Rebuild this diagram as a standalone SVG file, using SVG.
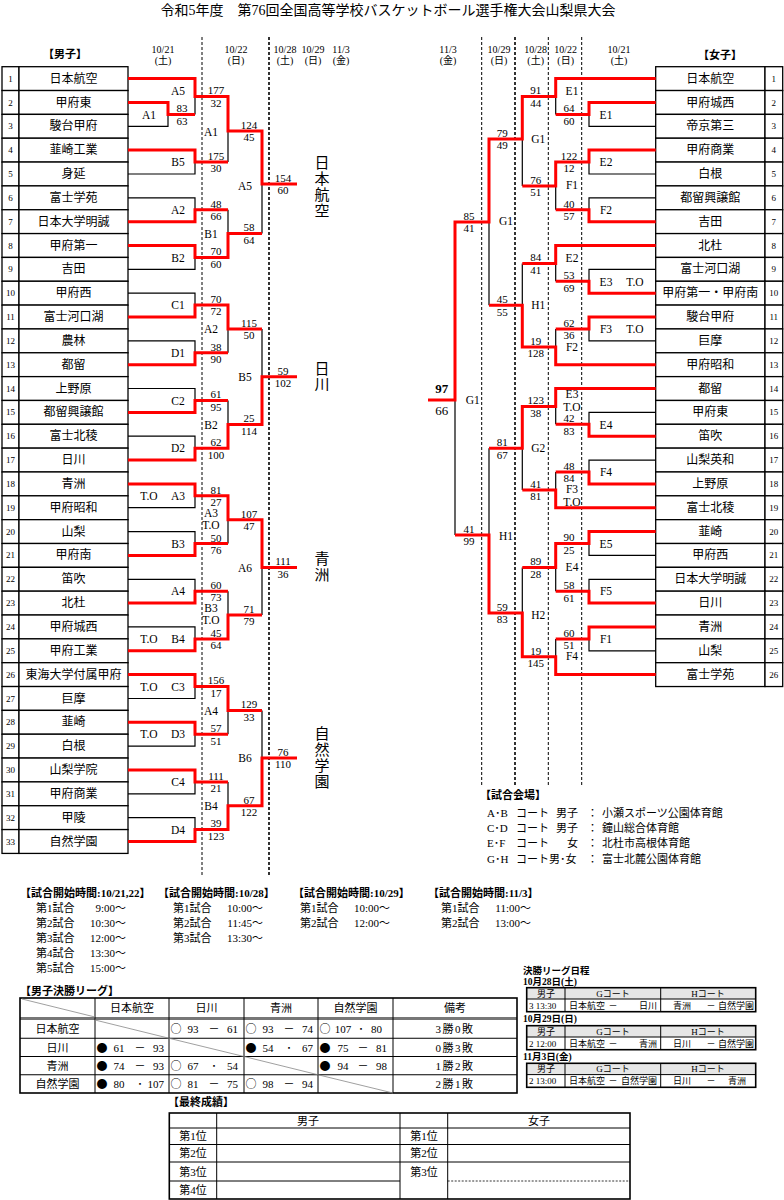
<svg xmlns="http://www.w3.org/2000/svg" width="784" height="1200" viewBox="0 0 784 1200">
<style>
text{font-family:"Liberation Serif","Noto Sans CJK JP",serif;fill:#000}
.nm{font-size:12px;text-anchor:middle}
.no{font-size:9px;text-anchor:middle}
.sc{font-size:11px;text-anchor:middle}
.lb{font-size:11.5px;text-anchor:middle}
.hd{font-size:10px;text-anchor:middle}
.bh{font-size:11px;font-weight:bold}
.st{font-size:11px}
.ste{font-size:11px;text-anchor:end}
.cm{font-size:11px;text-anchor:middle}
.ce{font-size:11px;text-anchor:end}
.ci{font-family:"Noto Sans CJK JP",sans-serif;font-size:11px;text-anchor:middle}
.rm{font-size:11px;text-anchor:middle;letter-spacing:1.5px}
.sm{font-size:9px}
.smc{font-size:9px;text-anchor:middle}
.sme{font-size:9px;text-anchor:end}
.box{fill:#fff;stroke:#000;stroke-width:1.3}
.red{fill:none;stroke:#ff0000;stroke-width:3;stroke-linejoin:miter}
.blk{fill:none;stroke:#000;stroke-width:1.2}
.d1{stroke:#000;stroke-width:1;stroke-dasharray:3,2}
.d2{stroke:#000;stroke-width:1.6;stroke-dasharray:3,2}
.tb{fill:none;stroke:#000;stroke-width:1}
.tbo{fill:none;stroke:#000;stroke-width:1.6}
.dg{stroke:#888;stroke-width:0.8}
</style>
<rect x="0" y="0" width="784" height="1200" fill="#fff"/>
<text x="388" y="15" style="font-size:14px;text-anchor:middle">令和5年度　第76回全国高等学校バスケットボール選手権大会山梨県大会</text>

<g id="headers">
<text class="bh" x="65" y="58" text-anchor="middle">【男子】</text>
<text class="hd" x="163" y="53">10/21</text><text class="hd" x="163" y="64">(土)</text>
<text class="hd" x="236" y="53">10/22</text><text class="hd" x="236" y="64">(日)</text>
<text class="hd" x="285" y="53">10/28</text><text class="hd" x="285" y="64">(土)</text>
<text class="hd" x="313" y="53">10/29</text><text class="hd" x="313" y="64">(日)</text>
<text class="hd" x="341" y="53">11/3</text><text class="hd" x="341" y="64">(金)</text>
<text class="hd" x="448" y="53">11/3</text><text class="hd" x="448" y="64">(金)</text>
<text class="hd" x="499" y="53">10/29</text><text class="hd" x="499" y="64">(日)</text>
<text class="hd" x="535.7" y="53">10/28</text><text class="hd" x="535.7" y="64">(土)</text>
<text class="hd" x="565.7" y="53">10/22</text><text class="hd" x="565.7" y="64">(日)</text>
<text class="hd" x="619" y="53">10/21</text><text class="hd" x="619" y="64">(土)</text>
<text class="bh" x="720" y="59" text-anchor="middle">【女子】</text>
</g>

<g id="dashes">
<line class="d1" x1="202" y1="37" x2="202" y2="877"/>
<line class="d2" x1="269" y1="37" x2="269" y2="877"/>
<line class="d1" x1="481.7" y1="37" x2="481.7" y2="786"/>
<line class="d2" x1="515" y1="37" x2="515" y2="786"/>
<line class="d1" x1="548.3" y1="37" x2="548.3" y2="786"/>
<line class="d1" x1="581.7" y1="37" x2="581.7" y2="786"/>
</g>

<g id="m1"><rect class="box" x="2" y="66.7" width="17" height="23.84"/><rect class="box" x="19" y="66.7" width="109" height="23.84"/><text class="no" x="10.5" y="81.6">1</text><text class="nm" x="73.5" y="82.6">日本航空</text></g>
<g id="m2"><rect class="box" x="2" y="90.54" width="17" height="23.84"/><rect class="box" x="19" y="90.54" width="109" height="23.84"/><text class="no" x="10.5" y="105.5">2</text><text class="nm" x="73.5" y="106.5">甲府東</text></g>
<g id="m3"><rect class="box" x="2" y="114.38" width="17" height="23.84"/><rect class="box" x="19" y="114.38" width="109" height="23.84"/><text class="no" x="10.5" y="129.3">3</text><text class="nm" x="73.5" y="130.3">駿台甲府</text></g>
<g id="m4"><rect class="box" x="2" y="138.22" width="17" height="23.84"/><rect class="box" x="19" y="138.22" width="109" height="23.84"/><text class="no" x="10.5" y="153.1">4</text><text class="nm" x="73.5" y="154.1">韮崎工業</text></g>
<g id="m5"><rect class="box" x="2" y="162.06" width="17" height="23.84"/><rect class="box" x="19" y="162.06" width="109" height="23.84"/><text class="no" x="10.5" y="177">5</text><text class="nm" x="73.5" y="178">身延</text></g>
<g id="m6"><rect class="box" x="2" y="185.9" width="17" height="23.84"/><rect class="box" x="19" y="185.9" width="109" height="23.84"/><text class="no" x="10.5" y="200.8">6</text><text class="nm" x="73.5" y="201.8">富士学苑</text></g>
<g id="m7"><rect class="box" x="2" y="209.74" width="17" height="23.84"/><rect class="box" x="19" y="209.74" width="109" height="23.84"/><text class="no" x="10.5" y="224.7">7</text><text class="nm" x="73.5" y="225.7">日本大学明誠</text></g>
<g id="m8"><rect class="box" x="2" y="233.58" width="17" height="23.84"/><rect class="box" x="19" y="233.58" width="109" height="23.84"/><text class="no" x="10.5" y="248.5">8</text><text class="nm" x="73.5" y="249.5">甲府第一</text></g>
<g id="m9"><rect class="box" x="2" y="257.42" width="17" height="23.84"/><rect class="box" x="19" y="257.42" width="109" height="23.84"/><text class="no" x="10.5" y="272.3">9</text><text class="nm" x="73.5" y="273.3">吉田</text></g>
<g id="m10"><rect class="box" x="2" y="281.26" width="17" height="23.84"/><rect class="box" x="19" y="281.26" width="109" height="23.84"/><text class="no" x="10.5" y="296.2">10</text><text class="nm" x="73.5" y="297.2">甲府西</text></g>
<g id="m11"><rect class="box" x="2" y="305.1" width="17" height="23.84"/><rect class="box" x="19" y="305.1" width="109" height="23.84"/><text class="no" x="10.5" y="320">11</text><text class="nm" x="73.5" y="321">富士河口湖</text></g>
<g id="m12"><rect class="box" x="2" y="328.94" width="17" height="23.84"/><rect class="box" x="19" y="328.94" width="109" height="23.84"/><text class="no" x="10.5" y="343.9">12</text><text class="nm" x="73.5" y="344.9">農林</text></g>
<g id="m13"><rect class="box" x="2" y="352.78" width="17" height="23.84"/><rect class="box" x="19" y="352.78" width="109" height="23.84"/><text class="no" x="10.5" y="367.7">13</text><text class="nm" x="73.5" y="368.7">都留</text></g>
<g id="m14"><rect class="box" x="2" y="376.62" width="17" height="23.84"/><rect class="box" x="19" y="376.62" width="109" height="23.84"/><text class="no" x="10.5" y="391.5">14</text><text class="nm" x="73.5" y="392.5">上野原</text></g>
<g id="m15"><rect class="box" x="2" y="400.46" width="17" height="23.84"/><rect class="box" x="19" y="400.46" width="109" height="23.84"/><text class="no" x="10.5" y="415.4">15</text><text class="nm" x="73.5" y="416.4">都留興譲館</text></g>
<g id="m16"><rect class="box" x="2" y="424.3" width="17" height="23.84"/><rect class="box" x="19" y="424.3" width="109" height="23.84"/><text class="no" x="10.5" y="439.2">16</text><text class="nm" x="73.5" y="440.2">富士北稜</text></g>
<g id="m17"><rect class="box" x="2" y="448.14" width="17" height="23.84"/><rect class="box" x="19" y="448.14" width="109" height="23.84"/><text class="no" x="10.5" y="463.1">17</text><text class="nm" x="73.5" y="464.1">日川</text></g>
<g id="m18"><rect class="box" x="2" y="471.98" width="17" height="23.84"/><rect class="box" x="19" y="471.98" width="109" height="23.84"/><text class="no" x="10.5" y="486.9">18</text><text class="nm" x="73.5" y="487.9">青洲</text></g>
<g id="m19"><rect class="box" x="2" y="495.82" width="17" height="23.84"/><rect class="box" x="19" y="495.82" width="109" height="23.84"/><text class="no" x="10.5" y="510.7">19</text><text class="nm" x="73.5" y="511.7">甲府昭和</text></g>
<g id="m20"><rect class="box" x="2" y="519.66" width="17" height="23.84"/><rect class="box" x="19" y="519.66" width="109" height="23.84"/><text class="no" x="10.5" y="534.6">20</text><text class="nm" x="73.5" y="535.6">山梨</text></g>
<g id="m21"><rect class="box" x="2" y="543.5" width="17" height="23.84"/><rect class="box" x="19" y="543.5" width="109" height="23.84"/><text class="no" x="10.5" y="558.4">21</text><text class="nm" x="73.5" y="559.4">甲府南</text></g>
<g id="m22"><rect class="box" x="2" y="567.34" width="17" height="23.84"/><rect class="box" x="19" y="567.34" width="109" height="23.84"/><text class="no" x="10.5" y="582.3">22</text><text class="nm" x="73.5" y="583.3">笛吹</text></g>
<g id="m23"><rect class="box" x="2" y="591.18" width="17" height="23.84"/><rect class="box" x="19" y="591.18" width="109" height="23.84"/><text class="no" x="10.5" y="606.1">23</text><text class="nm" x="73.5" y="607.1">北杜</text></g>
<g id="m24"><rect class="box" x="2" y="615.02" width="17" height="23.84"/><rect class="box" x="19" y="615.02" width="109" height="23.84"/><text class="no" x="10.5" y="629.9">24</text><text class="nm" x="73.5" y="630.9">甲府城西</text></g>
<g id="m25"><rect class="box" x="2" y="638.86" width="17" height="23.84"/><rect class="box" x="19" y="638.86" width="109" height="23.84"/><text class="no" x="10.5" y="653.8">25</text><text class="nm" x="73.5" y="654.8">甲府工業</text></g>
<g id="m26"><rect class="box" x="2" y="662.7" width="17" height="23.84"/><rect class="box" x="19" y="662.7" width="109" height="23.84"/><text class="no" x="10.5" y="677.6">26</text><text class="nm" x="73.5" y="678.6">東海大学付属甲府</text></g>
<g id="m27"><rect class="box" x="2" y="686.54" width="17" height="23.84"/><rect class="box" x="19" y="686.54" width="109" height="23.84"/><text class="no" x="10.5" y="701.5">27</text><text class="nm" x="73.5" y="702.5">巨摩</text></g>
<g id="m28"><rect class="box" x="2" y="710.38" width="17" height="23.84"/><rect class="box" x="19" y="710.38" width="109" height="23.84"/><text class="no" x="10.5" y="725.3">28</text><text class="nm" x="73.5" y="726.3">韮崎</text></g>
<g id="m29"><rect class="box" x="2" y="734.22" width="17" height="23.84"/><rect class="box" x="19" y="734.22" width="109" height="23.84"/><text class="no" x="10.5" y="749.1">29</text><text class="nm" x="73.5" y="750.1">白根</text></g>
<g id="m30"><rect class="box" x="2" y="758.06" width="17" height="23.84"/><rect class="box" x="19" y="758.06" width="109" height="23.84"/><text class="no" x="10.5" y="773">30</text><text class="nm" x="73.5" y="774">山梨学院</text></g>
<g id="m31"><rect class="box" x="2" y="781.9" width="17" height="23.84"/><rect class="box" x="19" y="781.9" width="109" height="23.84"/><text class="no" x="10.5" y="796.8">31</text><text class="nm" x="73.5" y="797.8">甲府商業</text></g>
<g id="m32"><rect class="box" x="2" y="805.74" width="17" height="23.84"/><rect class="box" x="19" y="805.74" width="109" height="23.84"/><text class="no" x="10.5" y="820.7">32</text><text class="nm" x="73.5" y="821.7">甲陵</text></g>
<g id="m33"><rect class="box" x="2" y="829.58" width="17" height="23.84"/><rect class="box" x="19" y="829.58" width="109" height="23.84"/><text class="no" x="10.5" y="844.5">33</text><text class="nm" x="73.5" y="845.5">自然学園</text></g>

<g id="w1"><rect class="box" x="655.7" y="66.7" width="109.3" height="23.84"/><rect class="box" x="765" y="66.7" width="17.7" height="23.84"/><text class="nm" x="710.3" y="82.6">日本航空</text><text class="no" x="773.8" y="81.6">1</text></g>
<g id="w2"><rect class="box" x="655.7" y="90.54" width="109.3" height="23.84"/><rect class="box" x="765" y="90.54" width="17.7" height="23.84"/><text class="nm" x="710.3" y="106.5">甲府城西</text><text class="no" x="773.8" y="105.5">2</text></g>
<g id="w3"><rect class="box" x="655.7" y="114.38" width="109.3" height="23.84"/><rect class="box" x="765" y="114.38" width="17.7" height="23.84"/><text class="nm" x="710.3" y="130.3">帝京第三</text><text class="no" x="773.8" y="129.3">3</text></g>
<g id="w4"><rect class="box" x="655.7" y="138.22" width="109.3" height="23.84"/><rect class="box" x="765" y="138.22" width="17.7" height="23.84"/><text class="nm" x="710.3" y="154.1">甲府商業</text><text class="no" x="773.8" y="153.1">4</text></g>
<g id="w5"><rect class="box" x="655.7" y="162.06" width="109.3" height="23.84"/><rect class="box" x="765" y="162.06" width="17.7" height="23.84"/><text class="nm" x="710.3" y="178">白根</text><text class="no" x="773.8" y="177">5</text></g>
<g id="w6"><rect class="box" x="655.7" y="185.9" width="109.3" height="23.84"/><rect class="box" x="765" y="185.9" width="17.7" height="23.84"/><text class="nm" x="710.3" y="201.8">都留興譲館</text><text class="no" x="773.8" y="200.8">6</text></g>
<g id="w7"><rect class="box" x="655.7" y="209.74" width="109.3" height="23.84"/><rect class="box" x="765" y="209.74" width="17.7" height="23.84"/><text class="nm" x="710.3" y="225.7">吉田</text><text class="no" x="773.8" y="224.7">7</text></g>
<g id="w8"><rect class="box" x="655.7" y="233.58" width="109.3" height="23.84"/><rect class="box" x="765" y="233.58" width="17.7" height="23.84"/><text class="nm" x="710.3" y="249.5">北杜</text><text class="no" x="773.8" y="248.5">8</text></g>
<g id="w9"><rect class="box" x="655.7" y="257.42" width="109.3" height="23.84"/><rect class="box" x="765" y="257.42" width="17.7" height="23.84"/><text class="nm" x="710.3" y="273.3">富士河口湖</text><text class="no" x="773.8" y="272.3">9</text></g>
<g id="w10"><rect class="box" x="655.7" y="281.26" width="109.3" height="23.84"/><rect class="box" x="765" y="281.26" width="17.7" height="23.84"/><text class="nm" x="710.3" y="297.2">甲府第一・甲府南</text><text class="no" x="773.8" y="296.2">10</text></g>
<g id="w11"><rect class="box" x="655.7" y="305.1" width="109.3" height="23.84"/><rect class="box" x="765" y="305.1" width="17.7" height="23.84"/><text class="nm" x="710.3" y="321">駿台甲府</text><text class="no" x="773.8" y="320">11</text></g>
<g id="w12"><rect class="box" x="655.7" y="328.94" width="109.3" height="23.84"/><rect class="box" x="765" y="328.94" width="17.7" height="23.84"/><text class="nm" x="710.3" y="344.9">巨摩</text><text class="no" x="773.8" y="343.9">12</text></g>
<g id="w13"><rect class="box" x="655.7" y="352.78" width="109.3" height="23.84"/><rect class="box" x="765" y="352.78" width="17.7" height="23.84"/><text class="nm" x="710.3" y="368.7">甲府昭和</text><text class="no" x="773.8" y="367.7">13</text></g>
<g id="w14"><rect class="box" x="655.7" y="376.62" width="109.3" height="23.84"/><rect class="box" x="765" y="376.62" width="17.7" height="23.84"/><text class="nm" x="710.3" y="392.5">都留</text><text class="no" x="773.8" y="391.5">14</text></g>
<g id="w15"><rect class="box" x="655.7" y="400.46" width="109.3" height="23.84"/><rect class="box" x="765" y="400.46" width="17.7" height="23.84"/><text class="nm" x="710.3" y="416.4">甲府東</text><text class="no" x="773.8" y="415.4">15</text></g>
<g id="w16"><rect class="box" x="655.7" y="424.3" width="109.3" height="23.84"/><rect class="box" x="765" y="424.3" width="17.7" height="23.84"/><text class="nm" x="710.3" y="440.2">笛吹</text><text class="no" x="773.8" y="439.2">16</text></g>
<g id="w17"><rect class="box" x="655.7" y="448.14" width="109.3" height="23.84"/><rect class="box" x="765" y="448.14" width="17.7" height="23.84"/><text class="nm" x="710.3" y="464.1">山梨英和</text><text class="no" x="773.8" y="463.1">17</text></g>
<g id="w18"><rect class="box" x="655.7" y="471.98" width="109.3" height="23.84"/><rect class="box" x="765" y="471.98" width="17.7" height="23.84"/><text class="nm" x="710.3" y="487.9">上野原</text><text class="no" x="773.8" y="486.9">18</text></g>
<g id="w19"><rect class="box" x="655.7" y="495.82" width="109.3" height="23.84"/><rect class="box" x="765" y="495.82" width="17.7" height="23.84"/><text class="nm" x="710.3" y="511.7">富士北稜</text><text class="no" x="773.8" y="510.7">19</text></g>
<g id="w20"><rect class="box" x="655.7" y="519.66" width="109.3" height="23.84"/><rect class="box" x="765" y="519.66" width="17.7" height="23.84"/><text class="nm" x="710.3" y="535.6">韮崎</text><text class="no" x="773.8" y="534.6">20</text></g>
<g id="w21"><rect class="box" x="655.7" y="543.5" width="109.3" height="23.84"/><rect class="box" x="765" y="543.5" width="17.7" height="23.84"/><text class="nm" x="710.3" y="559.4">甲府西</text><text class="no" x="773.8" y="558.4">21</text></g>
<g id="w22"><rect class="box" x="655.7" y="567.34" width="109.3" height="23.84"/><rect class="box" x="765" y="567.34" width="17.7" height="23.84"/><text class="nm" x="710.3" y="583.3">日本大学明誠</text><text class="no" x="773.8" y="582.3">22</text></g>
<g id="w23"><rect class="box" x="655.7" y="591.18" width="109.3" height="23.84"/><rect class="box" x="765" y="591.18" width="17.7" height="23.84"/><text class="nm" x="710.3" y="607.1">日川</text><text class="no" x="773.8" y="606.1">23</text></g>
<g id="w24"><rect class="box" x="655.7" y="615.02" width="109.3" height="23.84"/><rect class="box" x="765" y="615.02" width="17.7" height="23.84"/><text class="nm" x="710.3" y="630.9">青洲</text><text class="no" x="773.8" y="629.9">24</text></g>
<g id="w25"><rect class="box" x="655.7" y="638.86" width="109.3" height="23.84"/><rect class="box" x="765" y="638.86" width="17.7" height="23.84"/><text class="nm" x="710.3" y="654.8">山梨</text><text class="no" x="773.8" y="653.8">25</text></g>
<g id="w26"><rect class="box" x="655.7" y="662.7" width="109.3" height="23.84"/><rect class="box" x="765" y="662.7" width="17.7" height="23.84"/><text class="nm" x="710.3" y="678.6">富士学苑</text><text class="no" x="773.8" y="677.6">26</text></g>

<g id="connectors">
<g id="black-left">
<polyline class="blk" points="128,126.3 168,126.3 168,114.4"/>
<polyline class="blk" points="128,174 195,174 195,162.1"/>
<polyline class="blk" points="128,197.8 195,197.8 195,209.8"/>
<polyline class="blk" points="128,269.3 195,269.3 195,257.4"/>
<polyline class="blk" points="128,293.2 195,293.2 195,305.1"/>
<polyline class="blk" points="128,340.9 195,340.9 195,352.8"/>
<polyline class="blk" points="128,388.5 195,388.5 195,400.5"/>
<polyline class="blk" points="128,436.2 195,436.2 195,448.2"/>
<polyline class="blk" points="128,507.7 195,507.7 195,495.8"/>
<polyline class="blk" points="128,531.6 195,531.6 195,543.5"/>
<polyline class="blk" points="128,579.3 195,579.3 195,591.2"/>
<polyline class="blk" points="128,626.9 195,626.9 195,638.9"/>
<polyline class="blk" points="128,698.5 195,698.5 195,686.6"/>
<polyline class="blk" points="128,746.1 195,746.1 195,734.2"/>
<polyline class="blk" points="128,793.8 195,793.8 195,781.9"/>
<polyline class="blk" points="128,817.7 195,817.7 195,829.6"/>
<path class="blk" d="M195,96.5V114.4 M228,131V162.1 M228,209.8V233.6 M228,329V352.8 M228,400.5V424.4 M228,519.7V543.5 M228,591.2V615.1 M228,710.4V734.2 M228,781.9V805.8 M262,184V233.6 M262,329V376.7 M262,567.4V615.1 M262,710.4V758.1"/>
</g>
<g id="black-right">
<polyline class="blk" points="655.7,126.3 589,126.3 589,114.4"/>
<polyline class="blk" points="655.7,174 589,174 589,162.1"/>
<polyline class="blk" points="655.7,197.8 589,197.8 589,209.8"/>
<polyline class="blk" points="655.7,269.3 589,269.3 589,281.3"/>
<polyline class="blk" points="655.7,340.9 589,340.9 589,329"/>
<polyline class="blk" points="655.7,412.4 589,412.4 589,424.3"/>
<polyline class="blk" points="655.7,460.1 589,460.1 589,472"/>
<polyline class="blk" points="655.7,555.4 589,555.4 589,543.5"/>
<polyline class="blk" points="655.7,579.3 589,579.3 589,591.2"/>
<polyline class="blk" points="655.7,650.8 589,650.8 589,638.9"/>
<path class="blk" d="M555.7,96.5V114.4 M555.7,186V209.8 M555.7,263.4V281.3 M555.7,329V346.9 M555.7,406.4V424.3 M555.7,472V489.9 M555.7,567.4V591.2 M555.7,638.9V656.8 M522.3,139V186 M522.3,263.4V305.2 M522.3,448.2V489.9 M522.3,567.4V613 M489,222V305.2 M489,448.2V535 M455,400V535"/>
</g>
<g id="red-left">
<polyline class="red" points="128,78.6 195,78.6 195,96.5 228,96.5 228,131 262,131 262,184 297,184"/>
<polyline class="red" points="128,102.5 168,102.5 168,114.4 195,114.4"/>
<polyline class="red" points="128,150.1 195,150.1 195,162.1 228,162.1"/>
<polyline class="red" points="128,221.7 195,221.7 195,209.8 228,209.8"/>
<polyline class="red" points="128,245.5 195,245.5 195,257.4 228,257.4 228,233.6 262,233.6"/>
<polyline class="red" points="128,317 195,317 195,305.1 228,305.1 228,329 262,329"/>
<polyline class="red" points="128,364.7 195,364.7 195,352.8 228,352.8"/>
<polyline class="red" points="128,412.4 195,412.4 195,400.5 228,400.5"/>
<polyline class="red" points="128,460.1 195,460.1 195,448.2 228,448.2 228,424.4 262,424.4 262,376.7 297,376.7"/>
<polyline class="red" points="128,483.9 195,483.9 195,495.8 228,495.8 228,519.7 262,519.7 262,567.4 297,567.4"/>
<polyline class="red" points="128,555.4 195,555.4 195,543.5 228,543.5"/>
<polyline class="red" points="128,603.1 195,603.1 195,591.2 228,591.2"/>
<polyline class="red" points="128,650.8 195,650.8 195,638.9 228,638.9 228,615.1 262,615.1"/>
<polyline class="red" points="128,674.6 195,674.6 195,686.6 228,686.6 228,710.4 262,710.4"/>
<polyline class="red" points="128,722.3 195,722.3 195,734.2 228,734.2"/>
<polyline class="red" points="128,770 195,770 195,781.9 228,781.9"/>
<polyline class="red" points="128,841.5 195,841.5 195,829.6 228,829.6 228,805.8 262,805.8 262,758.1 297,758.1"/>
</g>
<g id="red-right">
<polyline class="red" points="655.7,78.6 555.7,78.6 555.7,96.5 522.3,96.5 522.3,139 489,139 489,222 455,222 455,400 428,400"/>
<polyline class="red" points="655.7,102.5 589,102.5 589,114.4 555.7,114.4"/>
<polyline class="red" points="655.7,150.1 589,150.1 589,162.1 555.7,162.1 555.7,186 522.3,186"/>
<polyline class="red" points="655.7,221.7 589,221.7 589,209.8 555.7,209.8"/>
<polyline class="red" points="655.7,245.5 555.7,245.5 555.7,263.4 522.3,263.4"/>
<polyline class="red" points="655.7,293.2 589,293.2 589,281.3 555.7,281.3"/>
<polyline class="red" points="655.7,317 589,317 589,329 555.7,329"/>
<polyline class="red" points="655.7,364.7 555.7,364.7 555.7,346.9 522.3,346.9 522.3,305.2 489,305.2"/>
<polyline class="red" points="655.7,388.5 555.7,388.5 555.7,406.4 522.3,406.4 522.3,448.2 489,448.2"/>
<polyline class="red" points="655.7,436.2 589,436.2 589,424.3 555.7,424.3"/>
<polyline class="red" points="655.7,483.9 589,483.9 589,472 555.7,472"/>
<polyline class="red" points="655.7,507.7 555.7,507.7 555.7,489.9 522.3,489.9"/>
<polyline class="red" points="655.7,531.6 589,531.6 589,543.5 555.7,543.5 555.7,567.4 522.3,567.4"/>
<polyline class="red" points="655.7,603.1 589,603.1 589,591.2 555.7,591.2"/>
<polyline class="red" points="655.7,626.9 589,626.9 589,638.9 555.7,638.9"/>
<polyline class="red" points="655.7,674.6 555.7,674.6 555.7,656.8 522.3,656.8 522.3,613 489,613 489,535 455,535"/>
</g>
</g>

<g id="scores-left">
<text class="sc" x="182" y="112.2">83</text><text class="sc" x="182" y="124.7">63</text>
<text class="sc" x="216" y="94.3">177</text><text class="sc" x="216" y="106.8">32</text>
<text class="sc" x="216" y="159.9">175</text><text class="sc" x="216" y="172.4">30</text>
<text class="sc" x="216" y="207.6">48</text><text class="sc" x="216" y="220.1">66</text>
<text class="sc" x="216" y="255.2">70</text><text class="sc" x="216" y="267.7">60</text>
<text class="sc" x="216" y="302.9">70</text><text class="sc" x="216" y="315.4">72</text>
<text class="sc" x="216" y="350.6">38</text><text class="sc" x="216" y="363.1">90</text>
<text class="sc" x="216" y="398.3">61</text><text class="sc" x="216" y="410.8">95</text>
<text class="sc" x="216" y="446">62</text><text class="sc" x="216" y="458.5">100</text>
<text class="sc" x="216" y="493.6">81</text><text class="sc" x="216" y="505.6">27</text>
<text class="sc" x="216" y="541.8">50</text><text class="sc" x="216" y="553.8">76</text>
<text class="sc" x="216" y="589">60</text><text class="sc" x="216" y="600.8">73</text>
<text class="sc" x="216" y="637.2">45</text><text class="sc" x="216" y="649.2">64</text>
<text class="sc" x="216" y="684.4">156</text><text class="sc" x="216" y="696.9">17</text>
<text class="sc" x="216" y="732">57</text><text class="sc" x="216" y="744.5">51</text>
<text class="sc" x="216" y="779.7">111</text><text class="sc" x="216" y="792.2">21</text>
<text class="sc" x="216" y="827.4">39</text><text class="sc" x="216" y="839.9">123</text>
<text class="sc" x="249" y="128.8">124</text><text class="sc" x="249" y="141.3">45</text>
<text class="sc" x="249" y="231.4">58</text><text class="sc" x="249" y="243.9">64</text>
<text class="sc" x="249" y="326.8">115</text><text class="sc" x="249" y="339.3">50</text>
<text class="sc" x="249" y="422.2">25</text><text class="sc" x="249" y="434.7">114</text>
<text class="sc" x="249" y="517.5">107</text><text class="sc" x="249" y="530">47</text>
<text class="sc" x="249" y="612.9">71</text><text class="sc" x="249" y="625.4">79</text>
<text class="sc" x="249" y="708.2">129</text><text class="sc" x="249" y="720.7">33</text>
<text class="sc" x="249" y="803.6">67</text><text class="sc" x="249" y="816.1">122</text>
<text class="sc" x="283" y="181.8">154</text><text class="sc" x="283" y="194.3">60</text>
<text class="sc" x="283" y="374.5">59</text><text class="sc" x="283" y="387">102</text>
<text class="sc" x="283" y="565.2">111</text><text class="sc" x="283" y="577.7">36</text>
<text class="sc" x="283" y="755.9">76</text><text class="sc" x="283" y="768.4">110</text>
</g>

<g id="labels-left">
<text class="lb" x="149" y="119">A1</text>
<text class="lb" x="178" y="95">A5</text>
<text class="lb" x="178" y="166.3">B5</text>
<text class="lb" x="178" y="214">A2</text>
<text class="lb" x="178" y="261.6">B2</text>
<text class="lb" x="178" y="309.3">C1</text>
<text class="lb" x="178" y="357">D1</text>
<text class="lb" x="178" y="404.7">C2</text>
<text class="lb" x="178" y="452.4">D2</text>
<text class="lb" x="178" y="500">A3</text><text class="lb" x="149" y="500">T.O</text>
<text class="lb" x="178" y="547.7">B3</text>
<text class="lb" x="178" y="595.4">A4</text>
<text class="lb" x="178" y="643.1">B4</text><text class="lb" x="149" y="643.1">T.O</text>
<text class="lb" x="178" y="690.8">C3</text><text class="lb" x="149" y="690.8">T.O</text>
<text class="lb" x="178" y="738.4">D3</text><text class="lb" x="149" y="738.4">T.O</text>
<text class="lb" x="178" y="786.1">C4</text>
<text class="lb" x="178" y="833.8">D4</text>
<text class="lb" x="211" y="136">A1</text>
<text class="lb" x="211" y="237.8">B1</text>
<text class="lb" x="211" y="333.2">A2</text>
<text class="lb" x="211" y="428.6">B2</text>
<text class="lb" x="211" y="517.2">A3</text><text class="lb" x="211" y="529.2">T.O</text>
<text class="lb" x="211" y="612.2">B3</text><text class="lb" x="211" y="624.4">T.O</text>
<text class="lb" x="211" y="714.6">A4</text>
<text class="lb" x="211" y="810">B4</text>
<text class="lb" x="245" y="190">A5</text>
<text class="lb" x="245" y="380.9">B5</text>
<text class="lb" x="245" y="571.6">A6</text>
<text class="lb" x="245" y="762.3">B6</text>
</g>

<g id="winners-left" style="font-size:15px">
<text x="322" text-anchor="middle"><tspan x="322" y="167.5">日</tspan><tspan x="322" y="183.5">本</tspan><tspan x="322" y="199.5">航</tspan><tspan x="322" y="215.5">空</tspan></text>
<text x="322" text-anchor="middle"><tspan x="322" y="373.5">日</tspan><tspan x="322" y="389.5">川</tspan></text>
<text x="322" text-anchor="middle"><tspan x="322" y="563.5">青</tspan><tspan x="322" y="579.5">洲</tspan></text>
<text x="322" text-anchor="middle"><tspan x="322" y="738.5">自</tspan><tspan x="322" y="754.5">然</tspan><tspan x="322" y="770.5">学</tspan><tspan x="322" y="786.5">園</tspan></text>
</g>

<g id="scores-right">
<text class="sc" x="569" y="112.2">64</text><text class="sc" x="569" y="124.7">60</text>
<text class="sc" x="569" y="159.9">122</text><text class="sc" x="569" y="172.4">12</text>
<text class="sc" x="569" y="207.6">40</text><text class="sc" x="569" y="220.1">57</text>
<text class="sc" x="569" y="279.1">53</text><text class="sc" x="569" y="291.6">69</text>
<text class="sc" x="569" y="326.8">62</text><text class="sc" x="569" y="339.3">36</text>
<text class="sc" x="569" y="422.1">42</text><text class="sc" x="569" y="434.6">83</text>
<text class="sc" x="569" y="469.8">48</text><text class="sc" x="569" y="482.3">84</text>
<text class="sc" x="569" y="541.3">90</text><text class="sc" x="569" y="553.8">25</text>
<text class="sc" x="569" y="589">58</text><text class="sc" x="569" y="601.5">61</text>
<text class="sc" x="569" y="636.7">60</text><text class="sc" x="569" y="649.2">51</text>
<text class="sc" x="535.7" y="94.3">91</text><text class="sc" x="535.7" y="106.8">44</text>
<text class="sc" x="535.7" y="183.8">76</text><text class="sc" x="535.7" y="196.3">51</text>
<text class="sc" x="535.7" y="261.2">84</text><text class="sc" x="535.7" y="273.7">41</text>
<text class="sc" x="535.7" y="344.7">19</text><text class="sc" x="535.7" y="357.2">128</text>
<text class="sc" x="535.7" y="404.2">123</text><text class="sc" x="535.7" y="416.7">38</text>
<text class="sc" x="535.7" y="487.7">41</text><text class="sc" x="535.7" y="500.2">81</text>
<text class="sc" x="535.7" y="565.2">89</text><text class="sc" x="535.7" y="577.7">28</text>
<text class="sc" x="535.7" y="654.6">19</text><text class="sc" x="535.7" y="667.1">145</text>
<text class="sc" x="502.3" y="136.8">79</text><text class="sc" x="502.3" y="149.3">49</text>
<text class="sc" x="502.3" y="303">45</text><text class="sc" x="502.3" y="315.5">55</text>
<text class="sc" x="502.3" y="446">81</text><text class="sc" x="502.3" y="458.5">67</text>
<text class="sc" x="502.3" y="610.8">59</text><text class="sc" x="502.3" y="623.3">83</text>
<text class="sc" x="469" y="219.8">85</text><text class="sc" x="469" y="232.3">41</text>
<text class="sc" x="469" y="532.8">41</text><text class="sc" x="469" y="545.3">99</text>
<text x="441.7" y="393" style="font-size:13px;font-weight:bold;text-anchor:middle">97</text>
<text x="441.7" y="415" style="font-size:13px;text-anchor:middle">66</text>
</g>

<g id="labels-right">
<text class="lb" x="606" y="118.6">E1</text>
<text class="lb" x="606" y="166.3">E2</text>
<text class="lb" x="606" y="214">F2</text>
<text class="lb" x="606" y="285.5">E3</text><text class="lb" x="635" y="285.5">T.O</text>
<text class="lb" x="606" y="333.2">F3</text><text class="lb" x="635" y="333.2">T.O</text>
<text class="lb" x="606" y="428.5">E4</text>
<text class="lb" x="606" y="476.2">F4</text>
<text class="lb" x="606" y="547.7">E5</text>
<text class="lb" x="606" y="595.4">F5</text>
<text class="lb" x="606" y="643.1">F1</text>
<text class="lb" x="572" y="95.2">E1</text>
<text class="lb" x="572" y="189.2">F1</text>
<text class="lb" x="572" y="261.9">E2</text>
<text class="lb" x="572" y="351">F2</text>
<text class="lb" x="572" y="398">E3</text><text class="lb" x="572" y="410.5">T.O</text>
<text class="lb" x="572" y="493">F3</text><text class="lb" x="572" y="505.5">T.O</text>
<text class="lb" x="572" y="571">E4</text>
<text class="lb" x="572" y="660">F4</text>
<text class="lb" x="538.3" y="142.5">G1</text>
<text class="lb" x="538.3" y="308.5">H1</text>
<text class="lb" x="538.3" y="452">G2</text>
<text class="lb" x="538.3" y="618.5">H2</text>
<text class="lb" x="506" y="225.2">G1</text>
<text class="lb" x="506" y="540">H1</text>
<text class="lb" x="472.7" y="404.2">G1</text>
</g>

<g id="venues">
<text class="bh" x="480" y="799">【試合会場】</text>
<text class="st" x="487" y="817.3">A･B</text><text class="st" x="516" y="817.3">コート</text><text class="st" x="556" y="817.3">男子</text><text class="st" x="587" y="817.3">：</text><text class="st" x="602" y="817.3">小瀬スポーツ公園体育館</text>
<text class="st" x="487" y="832.3">C･D</text><text class="st" x="516" y="832.3">コート</text><text class="st" x="556" y="832.3">男子</text><text class="st" x="587" y="832.3">：</text><text class="st" x="602" y="832.3">鐘山総合体育館</text>
<text class="st" x="487" y="847.3">E･F</text><text class="st" x="516" y="847.3">コート</text><text class="st" x="567" y="847.3">女</text><text class="st" x="587" y="847.3">：</text><text class="st" x="602" y="847.3">北杜市高根体育館</text>
<text class="st" x="487" y="863.3">G･H</text><text class="st" x="516" y="863.3">コート</text><text class="st" x="549" y="863.3">男･女</text><text class="st" x="587" y="863.3">：</text><text class="st" x="602" y="863.3">富士北麓公園体育館</text>
</g>

<g id="times">
<text class="bh" x="20" y="897.3">【試合開始時間:10/21,22】</text>
<text class="st" x="36" y="912.3">第1試合</text><text class="ste" x="126" y="912.3">9:00～</text>
<text class="st" x="36" y="927.3">第2試合</text><text class="ste" x="126" y="927.3">10:30～</text>
<text class="st" x="36" y="942.3">第3試合</text><text class="ste" x="126" y="942.3">12:00～</text>
<text class="st" x="36" y="957.3">第4試合</text><text class="ste" x="126" y="957.3">13:30～</text>
<text class="st" x="36" y="972.3">第5試合</text><text class="ste" x="126" y="972.3">15:00～</text>
<text class="bh" x="158" y="897.3">【試合開始時間:10/28】</text>
<text class="st" x="173" y="912.3">第1試合</text><text class="ste" x="263" y="912.3">10:00～</text>
<text class="st" x="173" y="927.3">第2試合</text><text class="ste" x="263" y="927.3">11:45～</text>
<text class="st" x="173" y="942.3">第3試合</text><text class="ste" x="263" y="942.3">13:30～</text>
<text class="bh" x="293" y="897.3">【試合開始時間:10/29】</text>
<text class="st" x="300" y="912.3">第1試合</text><text class="ste" x="390" y="912.3">10:00～</text>
<text class="st" x="300" y="927.3">第2試合</text><text class="ste" x="390" y="927.3">12:00～</text>
<text class="bh" x="428" y="897.3">【試合開始時間:11/3】</text>
<text class="st" x="441" y="912.3">第1試合</text><text class="ste" x="531" y="912.3">11:00～</text>
<text class="st" x="441" y="927.3">第2試合</text><text class="ste" x="531" y="927.3">13:00～</text>
</g>

<g id="league">
<text class="bh" x="20" y="995">【男子決勝リーグ】</text>
<rect x="20" y="1017" width="497" height="3" fill="#777"/>
<path class="tb" d="M20,1038.25H517 M20,1056.5H517 M20,1074.75H517 M95,998V1093 M169,998V1093 M244,998V1093 M318,998V1093 M393,998V1093"/>
<rect class="tbo" x="20" y="998" width="497" height="95"/>
<line class="dg" x1="22" y1="999" x2="95" y2="1017"/>
<line class="dg" x1="95" y1="1020" x2="169" y2="1038.25"/>
<line class="dg" x1="169" y1="1038.25" x2="244" y2="1056.5"/>
<line class="dg" x1="244" y1="1056.5" x2="318" y2="1074.75"/>
<line class="dg" x1="318" y1="1074.75" x2="393" y2="1093"/>
<text class="cm" x="132" y="1011.5">日本航空</text>
<text class="cm" x="206.5" y="1011.5">日川</text>
<text class="cm" x="281" y="1011.5">青洲</text>
<text class="cm" x="355.5" y="1011.5">自然学園</text>
<text class="cm" x="455" y="1011.5">備考</text>
<text class="cm" x="57.5" y="1033.2">日本航空</text>
<text class="cm" x="57.5" y="1051.5">日川</text>
<text class="cm" x="57.5" y="1069.7">青洲</text>
<text class="cm" x="57.5" y="1088">自然学園</text>
<text class="ci" x="176" y="1033.2">○</text><text class="cm" x="193" y="1033.2">93</text><text class="cm" x="214" y="1033.2">－</text><text class="ce" x="238" y="1033.2">61</text>
<text class="ci" x="251" y="1033.2">○</text><text class="cm" x="268" y="1033.2">93</text><text class="cm" x="289" y="1033.2">－</text><text class="ce" x="313" y="1033.2">74</text>
<text class="ci" x="325" y="1033.2">○</text><text class="cm" x="343" y="1033.2">107</text><text class="cm" x="361" y="1033.2">･</text><text class="ce" x="382" y="1033.2">80</text>
<text class="rm" x="455" y="1033.2">3勝0敗</text>
<text class="ci" x="102" y="1051.5">●</text><text class="cm" x="119" y="1051.5">61</text><text class="cm" x="140" y="1051.5">－</text><text class="ce" x="164" y="1051.5">93</text>
<text class="ci" x="251" y="1051.5">●</text><text class="cm" x="268" y="1051.5">54</text><text class="cm" x="289" y="1051.5">･</text><text class="ce" x="313" y="1051.5">67</text>
<text class="ci" x="325" y="1051.5">●</text><text class="cm" x="343" y="1051.5">75</text><text class="cm" x="363" y="1051.5">－</text><text class="ce" x="387" y="1051.5">81</text>
<text class="rm" x="455" y="1051.5">0勝3敗</text>
<text class="ci" x="102" y="1069.7">●</text><text class="cm" x="119" y="1069.7">74</text><text class="cm" x="140" y="1069.7">－</text><text class="ce" x="164" y="1069.7">93</text>
<text class="ci" x="176" y="1069.7">○</text><text class="cm" x="193" y="1069.7">67</text><text class="cm" x="214" y="1069.7">･</text><text class="ce" x="238" y="1069.7">54</text>
<text class="ci" x="325" y="1069.7">●</text><text class="cm" x="343" y="1069.7">94</text><text class="cm" x="363" y="1069.7">－</text><text class="ce" x="387" y="1069.7">98</text>
<text class="rm" x="455" y="1069.7">1勝2敗</text>
<text class="ci" x="102" y="1088">●</text><text class="cm" x="119" y="1088">80</text><text class="cm" x="140" y="1088">･</text><text class="ce" x="164" y="1088">107</text>
<text class="ci" x="176" y="1088">○</text><text class="cm" x="193" y="1088">81</text><text class="cm" x="214" y="1088">－</text><text class="ce" x="238" y="1088">75</text>
<text class="ci" x="251" y="1088">○</text><text class="cm" x="268" y="1088">98</text><text class="cm" x="289" y="1088">－</text><text class="ce" x="313" y="1088">94</text>
<text class="rm" x="455" y="1088">2勝1敗</text>
</g>

<g id="schedule">
<text x="523" y="974" style="font-size:9.5px;font-weight:bold">決勝リーグ日程</text>
<text x="523" y="985" style="font-size:9.5px;font-weight:bold">10月28日(土)</text>
<rect x="526.7" y="987.7" width="229" height="11.3" fill="#e6e6e6"/>
<rect class="tbo" x="526.7" y="987.7" width="229" height="24"/>
<path class="tb" d="M526.7,999H755.7 M565,987.7V1011.7 M660.7,987.7V1011.7"/>
<text class="smc" x="546" y="996.6">男子</text><text class="smc" x="613" y="996.6">Gコート</text><text class="smc" x="708" y="996.6">Hコート</text>
<text class="sm" x="529" y="1008.6">3  13:30</text><text class="sm" x="569" y="1008.6">日本航空</text><text class="smc" x="613" y="1008.6">－</text><text class="sme" x="657" y="1008.6">日川</text>
<text class="sm" x="673" y="1008.6">青洲</text><text class="smc" x="711" y="1008.6">－</text><text class="sme" x="754" y="1008.6">自然学園</text>
<text x="523" y="1022" style="font-size:9.5px;font-weight:bold">10月29日(日)</text>
<rect x="526.7" y="1025.7" width="229" height="11.3" fill="#e6e6e6"/>
<rect class="tbo" x="526.7" y="1025.7" width="229" height="24"/>
<path class="tb" d="M526.7,1037H755.7 M565,1025.7V1049.7 M660.7,1025.7V1049.7"/>
<text class="smc" x="546" y="1034.6">男子</text><text class="smc" x="613" y="1034.6">Gコート</text><text class="smc" x="708" y="1034.6">Hコート</text>
<text class="sm" x="529" y="1046.6">2  12:00</text><text class="sm" x="569" y="1046.6">日本航空</text><text class="smc" x="613" y="1046.6">－</text><text class="sme" x="657" y="1046.6">青洲</text>
<text class="sm" x="673" y="1046.6">日川</text><text class="smc" x="711" y="1046.6">－</text><text class="sme" x="754" y="1046.6">自然学園</text>
<text x="523" y="1060" style="font-size:9.5px;font-weight:bold">11月3日(金)</text>
<rect x="526.7" y="1063.3" width="229" height="11.3" fill="#e6e6e6"/>
<rect class="tbo" x="526.7" y="1063.3" width="229" height="24"/>
<path class="tb" d="M526.7,1074.6H755.7 M565,1063.3V1087.3 M660.7,1063.3V1087.3"/>
<text class="smc" x="546" y="1072.2">男子</text><text class="smc" x="613" y="1072.2">Gコート</text><text class="smc" x="708" y="1072.2">Hコート</text>
<text class="sm" x="529" y="1084.2">2  13:00</text><text class="sm" x="569" y="1084.2">日本航空</text><text class="smc" x="613" y="1084.2">－</text><text class="sme" x="657" y="1084.2">自然学園</text>
<text class="sm" x="673" y="1084.2">日川</text><text class="smc" x="711" y="1084.2">－</text><text class="sme" x="746" y="1084.2">青洲</text>
</g>

<g id="final">
<text class="bh" x="168" y="1106">【最終成績】</text>
<rect class="tbo" x="169.3" y="1113" width="460.7" height="86"/>
<path class="tb" d="M169.3,1128H630 M169.3,1144.5H630 M169.3,1162H630 M169.3,1181H400 M216.7,1113V1199 M400,1113V1199 M447.7,1113V1199"/>
<line x1="447.7" y1="1181" x2="630" y2="1181" stroke="#000" stroke-width="0.8" stroke-dasharray="2,1.5"/>
<text class="cm" x="308" y="1124.5">男子</text>
<text class="cm" x="539" y="1124.5">女子</text>
<text class="cm" x="193" y="1140.3">第1位</text>
<text class="cm" x="193" y="1157.3">第2位</text>
<text class="cm" x="193" y="1175.5">第3位</text>
<text class="cm" x="193" y="1194">第4位</text>
<text class="cm" x="424" y="1140.3">第1位</text>
<text class="cm" x="424" y="1157.3">第2位</text>
<text class="cm" x="424" y="1175.5">第3位</text>
</g>
</svg>
